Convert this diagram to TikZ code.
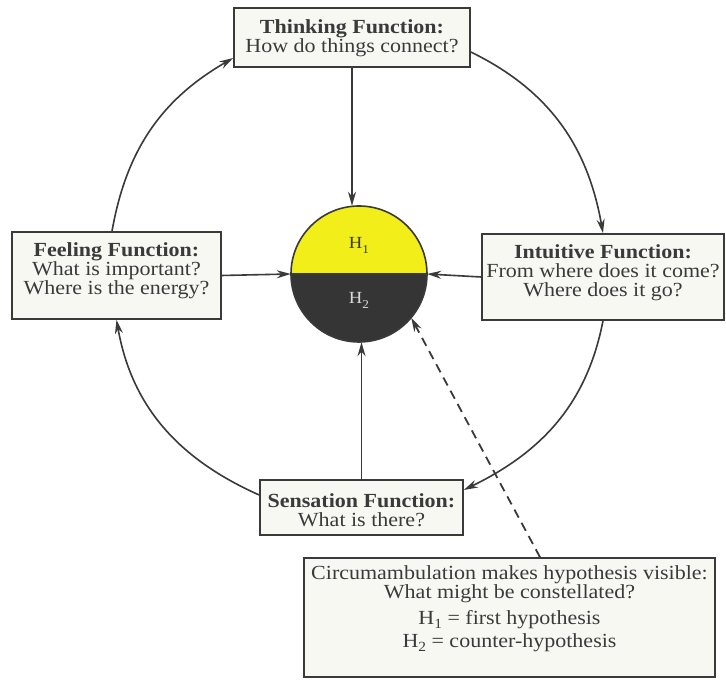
\documentclass[tikz,border=0pt]{standalone}
\usepackage{fontspec}
\setmainfont{Liberation Serif}[FakeStretch=1.1]
\usetikzlibrary{arrows.meta}
\definecolor{ink}{HTML}{3A3A3A}
\definecolor{boxfill}{HTML}{F8F8F3}
\definecolor{hyel}{HTML}{F2EE1A}
\definecolor{hdark}{HTML}{353535}
\newcommand\Hs[1]{H\raisebox{-0.2em}{\fontsize{14}{14}\selectfont #1}}
\begin{document}
\begin{tikzpicture}[x=1pt,y=1pt,
  fbox/.style={draw=ink, line width=1.6pt, fill=boxfill, inner sep=0pt},
  txt/.style={align=center, text=ink, inner sep=0pt, font=\fontsize{20}{19}\selectfont},
  conn/.style={draw=ink, line width=1.6pt, -{Stealth[length=14pt,width=8pt]}}]
\useasboundingbox (0,0) rectangle (726,682);
\fill[white] (0,0) rectangle (726,682);
% boxes
\node[fbox, minimum width=236pt, minimum height=59pt] (think) at (352,644.5) {};
\node[txt] (thinktxt) at (352,644) {\textbf{Thinking Function:}\\How do things connect?};
\node[fbox, minimum width=209pt, minimum height=87pt] (feel) at (116.5,406.5) {};
\node[txt] (feeltxt) at (116.5,411.5) {\textbf{Feeling Function:}\\What is important?\\Where is the energy?};
\node[fbox, minimum width=242pt, minimum height=86pt] (intu) at (603,405) {};
\node[txt] (intutxt) at (603,409) {\textbf{Intuitive Function:}\\From where does it come?\\Where does it go?};
\node[fbox, minimum width=203pt, minimum height=55pt] (sens) at (361.5,174.5) {};
\node[txt] (senstxt) at (361.5,172) {\textbf{Sensation Function:}\\What is there?};
\node[fbox, minimum width=411pt, minimum height=119pt] (note) at (509.5,64.5) {};
\node[txt] (notetxt) at (509.5,73.5) {Circumambulation makes hypothesis visible:\\What might be constellated?\\[7pt]\Hs{1} = first hypothesis\\[4pt]\Hs{2} = counter-hypothesis};
% central circle
\node[circle, minimum size=136pt, inner sep=0pt] (circ) at (359,408) {};
\fill[hyel] (circ.east) arc[start angle=0, end angle=180, radius=68pt] -- cycle;
\fill[hdark] (circ.west) arc[start angle=180, end angle=360, radius=68pt] -- cycle;
\draw[ink, line width=1.6pt] (circ.center) circle[radius=68pt];
\draw[ink, line width=1.6pt] (circ.west) -- (circ.east);
\node[text=ink, font=\fontsize{17}{17}\selectfont] (h1) at (359,437) {H\raisebox{-0.3em}{\fontsize{12}{12}\selectfont 1}};
\node[text=white!85!black, font=\fontsize{17}{17}\selectfont] (h2) at (359,382) {H\raisebox{-0.3em}{\fontsize{12}{12}\selectfont 2}};
% straight arrows into circle
\draw[conn] (think.south) -- (think.south |- circ.north);
\draw[conn] (feel.east) -- (circ.west);
\draw[conn] (intu.west) -- (circ.east);
\draw[conn] (sens.north) -- (sens.north |- circ.south);
\draw[conn, line width=1.8pt, dash pattern=on 9pt off 6pt] ([xshift=30.5pt]note.north) -- (circ.-40);
% circumambulation arcs
\draw[conn] ([xshift=-4.5pt]feel.north) to[out=80, in=210] ([yshift=-20.5pt]think.west);
\draw[conn] ([yshift=-14.5pt]think.east) to[out=-26, in=100] (intu.north);
\draw[conn] (intu.south) to[out=-101, in=26] ([yshift=17.5pt]sens.east);
\draw[conn] ([yshift=12.5pt]sens.west) to[out=156, in=-80] (feel.south);
\end{tikzpicture}
\end{document}
